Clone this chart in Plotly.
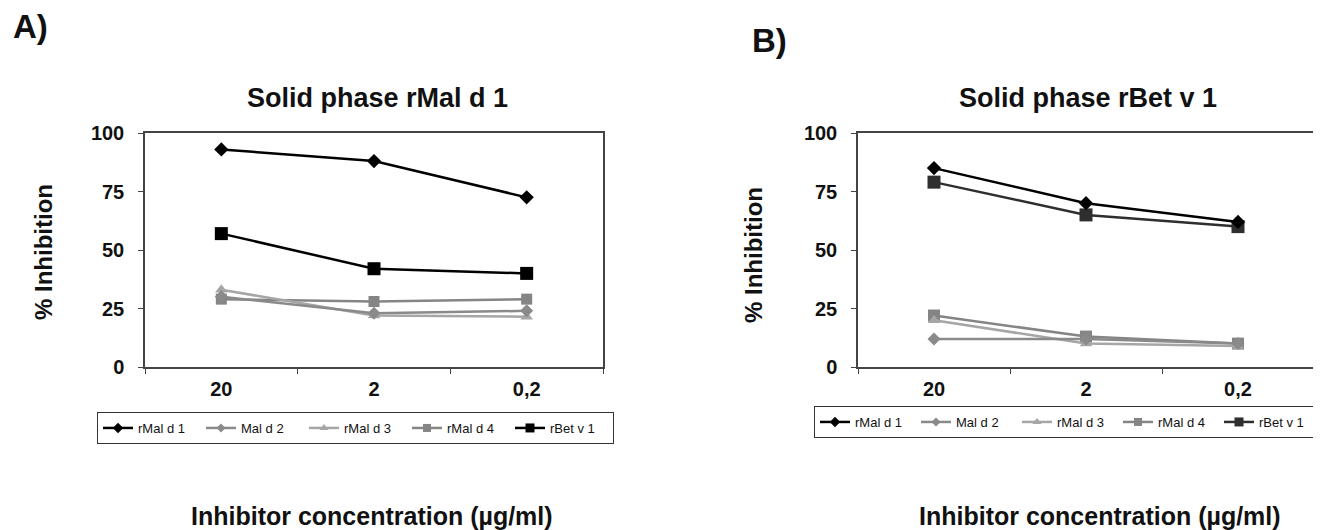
import plotly.graph_objects as go

concentrations = ["20", "2", "0,2"]
series_names = ["rMal d 1", "Mal d 2", "rMal d 3", "rMal d 4", "rBet v 1"]

# Panel A: Solid phase rMal d 1
a_rmald1 = [93, 88, 72.5]
a_mald2 = [30, 23, 24]
a_rmald3 = [33, 22, 21.5]
a_rmald4 = [29, 28, 29]
a_rbetv1 = [57, 42, 40]

# Panel B: Solid phase rBet v 1
b_rmald1 = [85, 70, 62]
b_mald2 = [12, 12, 10]
b_rmald3 = [20, 10, 9]
b_rmald4 = [22, 13, 10]
b_rbetv1 = [79, 65, 60]

FONT = "Liberation Sans, Arial, sans-serif"

styles_a = [
    dict(color="#000000", symbol="diamond", size=11),
    dict(color="#8a8a8a", symbol="diamond", size=10),
    dict(color="#a6a6a6", symbol="triangle-up", size=11),
    dict(color="#858585", symbol="square", size=11),
    dict(color="#000000", symbol="square", size=13),
]
styles_b = [
    dict(color="#000000", symbol="diamond", size=11),
    dict(color="#8a8a8a", symbol="diamond", size=10),
    dict(color="#a6a6a6", symbol="triangle-up", size=11),
    dict(color="#858585", symbol="square", size=12),
    dict(color="#2e2e2e", symbol="square", size=13),
]
legend_sizes = [8, 7, 8, 8, 9]

fig = go.Figure()
data_a = [a_rmald1, a_mald2, a_rmald3, a_rmald4, a_rbetv1]
data_b = [b_rmald1, b_mald2, b_rmald3, b_rmald4, b_rbetv1]

draw_order = [3, 2, 1, 4, 0]
for i in draw_order:
    st = styles_a[i]
    fig.add_trace(go.Scatter(
        x=concentrations, y=data_a[i], name=series_names[i], mode="lines+markers",
        line=dict(color=st["color"], width=2.5),
        marker=dict(color=st["color"], symbol=st["symbol"], size=st["size"]),
        xaxis="x", yaxis="y", showlegend=False,
    ))
for i in draw_order:
    st = styles_b[i]
    fig.add_trace(go.Scatter(
        x=concentrations, y=data_b[i], name=series_names[i], mode="lines+markers",
        line=dict(color=st["color"], width=2.5),
        marker=dict(color=st["color"], symbol=st["symbol"], size=st["size"]),
        xaxis="x2", yaxis="y2", showlegend=False,
    ))
# legend entries (smaller symbols, as in the original)
for leg, styles, xa, ya in (("legend", styles_a, "x", "y"), ("legend2", styles_b, "x2", "y2")):
    for i in range(5):
        st = styles[i]
        fig.add_trace(go.Scatter(
            x=[None], y=[None], name=series_names[i], mode="lines+markers",
            line=dict(color=st["color"], width=2.5),
            marker=dict(color=st["color"], symbol=st["symbol"], size=legend_sizes[i]),
            xaxis=xa, yaxis=ya, legend=leg, legendrank=i + 1, showlegend=True,
        ))

W, H = 1321, 530
OFF = 8  # page body margin offset
def px_x(p): return (p - OFF) / W
def px_y(p): return 1 - (p - OFF) / H

axis_common = dict(showline=True, linecolor="#444444", linewidth=1.5, mirror=True,
                   showgrid=False, zeroline=False, ticks="outside", ticklen=5,
                   tickcolor="#444444", tickwidth=1.2,
                   tickfont=dict(family=FONT, size=20, color="#111111", weight="bold"))

legend_common = dict(orientation="h", xanchor="left", yanchor="middle",
                     bordercolor="#333333", borderwidth=1, bgcolor="white",
                     font=dict(family=FONT, size=13, color="#111111"),
                     itemsizing="trace", tracegroupgap=0, itemwidth=30,
                     entrywidthmode="pixels")

fig.update_layout(
    width=W, height=H, margin=dict(l=0, r=0, t=0, b=0, autoexpand=False),
    plot_bgcolor="white", paper_bgcolor="white", showlegend=True,
    xaxis=dict(domain=[px_x(145), px_x(603)], anchor="y", type="category",
               range=[-0.5, 2.5], tickson="boundaries", ticklabelstandoff=3, **axis_common),
    yaxis=dict(domain=[px_y(367), px_y(133)], anchor="x", range=[0, 100],
               tickvals=[0, 25, 50, 75, 100], ticklabelstandoff=10, **axis_common),
    xaxis2=dict(domain=[px_x(858), px_x(1314)], anchor="y2", type="category",
                range=[-0.5, 2.5], tickson="boundaries", ticklabelstandoff=3, **axis_common),
    yaxis2=dict(domain=[px_y(367), px_y(133)], anchor="x2", range=[0, 100],
                tickvals=[0, 25, 50, 75, 100], ticklabelstandoff=10, **axis_common),
    legend=dict(x=px_x(97), y=px_y(428), entrywidth=58, **legend_common),
    legend2=dict(x=px_x(814), y=px_y(422), entrywidth=56, **legend_common),
)

ann_font = dict(family=FONT, color="#111111", weight="bold")
annotations = [
    dict(text="A)", x=px_x(11), y=px_y(27), xanchor="left", yanchor="middle",
         font=dict(size=33, **ann_font)),
    dict(text="B)", x=px_x(750), y=px_y(41), xanchor="left", yanchor="middle",
         font=dict(size=33, **ann_font)),
    dict(text="Solid phase rMal d 1", x=px_x(378), y=px_y(98), xanchor="center", yanchor="middle",
         font=dict(size=27, **ann_font)),
    dict(text="Solid phase rBet v 1", x=px_x(1088), y=px_y(98), xanchor="center", yanchor="middle",
         font=dict(size=27, **ann_font)),
    dict(text="% Inhibition", x=px_x(43), y=px_y(252), xanchor="center", yanchor="middle",
         textangle=-90, font=dict(size=24, **ann_font)),
    dict(text="% Inhibition", x=px_x(753), y=px_y(255), xanchor="center", yanchor="middle",
         textangle=-90, font=dict(size=24, **ann_font)),
    dict(text="Inhibitor concentration (µg/ml)", x=px_x(372), y=px_y(516), xanchor="center",
         yanchor="middle", font=dict(size=25, **ann_font)),
    dict(text="Inhibitor concentration (µg/ml)", x=px_x(1100), y=px_y(516), xanchor="center",
         yanchor="middle", font=dict(size=25, **ann_font)),
]
for a in annotations:
    a.update(xref="paper", yref="paper", showarrow=False)
fig.update_layout(annotations=annotations)

fig.write_html("out.html")
